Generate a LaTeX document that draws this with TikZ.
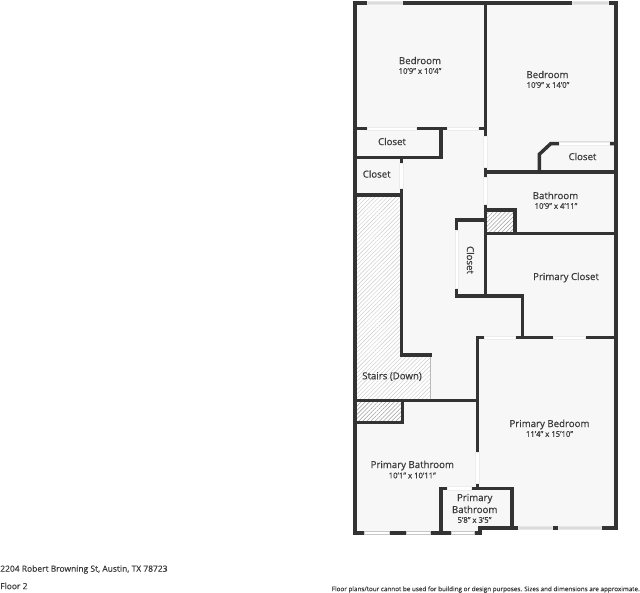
\documentclass[tikz,border=0pt]{standalone}
\usepackage{fontspec}
\setmainfont{Open Sans}[FakeBold=0.5]
\usetikzlibrary{patterns.meta}
\definecolor{roomgray}{HTML}{F7F7F7}
\definecolor{wallgray}{HTML}{333333}
\definecolor{textgray}{HTML}{3A3A3A}
\tikzset{
	wall/.style={draw=wallgray,line width=2.6pt,line cap=rect,line join=miter},
	door/.style={fill=white,draw=gray!15,line width=.25pt},
	glass/.style={fill=gray!28,draw=gray!18,line width=.3pt},
	lowglass/.style={fill=white,draw=gray!45,line width=.4pt},
	roomname/.style={text=textgray,font=\fontsize{7.25}{8}\selectfont,align=center,inner sep=0pt},
	roomsize/.style={text=textgray,font=\fontsize{5.8}{6}\selectfont,inner sep=0pt},
	stairhatch/.style={pattern={Lines[angle=45,distance=2.2pt,line width=.3pt]},pattern color=gray!42},
	darkhatch/.style={pattern={Lines[angle=45,distance=2.2pt,line width=.4pt]},pattern color=gray!75}
}
\begin{document}
\begin{tikzpicture}[x=.75pt,y=-.75pt]
	\useasboundingbox (0,0) rectangle (640,593);
	% floor
	\fill[roomgray] (355,3)--(616,3)--(616,528)--(480,528)--(480,533)--(355,533)--cycle;
	% hatched parts
	\fill[white] (356.5,196.5)--(400,196.5)--(400,355)--(430,355)--(430,399)--(356.5,399)--cycle;
	\path[stairhatch] (356.5,196.5)--(400,196.5)--(400,355)--(430,355)--(430,399)--(356.5,399)--cycle;
	\draw[gray!55,line width=.5pt] (430,355)--(430,399);
	\fill[white] (357,402) rectangle (401,421);
	\path[darkhatch] (357,402) rectangle (401,421);
	\fill[white] (487,212) rectangle (513.5,232);
	\path[darkhatch] (487,212) rectangle (513.5,232);
	% outside walls
	\draw[wall] (355,3)--(616,3)--(616,528)--(480,528)--(480,533)--(355,533)--cycle;
	% inside walls
	\draw[wall] (485.3,3)--(485.3,296)--(456.7,296)--(456.7,220)--(485.3,220);
	\draw[wall] (355,128.7)--(485.3,128.7);
	\draw[wall] (441,128.7)--(441,157.3)--(355,157.3);
	\draw[wall] (401.3,157.3)--(401.3,355)--(430,355);
	\draw[wall] (355,195)--(401.3,195);
	\draw[wall] (355,400.7)--(477.3,400.7);
	\draw[wall] (355,422.7)--(402.7,422.7)--(402.7,400.7);
	\draw[wall] (477.3,488.3)--(477.3,337.7)--(616,337.7);
	\draw[wall] (456.7,296)--(522.3,296)--(522.3,337.7);
	\draw[wall] (485.3,172)--(616,172);
	\draw[wall] (485.3,210)--(515,210)--(515,233.7);
	\draw[wall] (485.3,233.7)--(616,233.7);
	\draw[wall] (539.3,172)--(539.3,154.3)--(550.7,143.7)--(616,143.7);
	\draw[wall] (441,533)--(441,488.3)--(512,488.3)--(512,528);
	% doors
	\foreach \xa/\ya/\xb/\yb in {366.7/127/416/130.5,446.7/127/478/130.5,559/142/608.7/145.5,
		399.5/163/403/187.7,483.5/136/487/166.7,483.5/177/487/204,455/230/458.5/288,
		484/336/515/339.5,553/336/585/339.5,475.5/452.3/479/483.3,447/486.5/471/490}
		\filldraw[door] (\xa,\ya) rectangle (\xb,\yb);
	% windows
	\foreach \xa/\xb in {367/401.7,571.7/607.7}
		\filldraw[glass] (\xa,1.5) rectangle (\xb,4.5);
	\foreach \xa/\xb in {518/552,558/601}
		\filldraw[glass] (\xa,526.3) rectangle (\xb,529.3);
	\foreach \xa/\xb in {364/389,406.7/430,451.7/474}
		\filldraw[lowglass] (\xa,531.5) rectangle (\xb,534.5);
	% labels
	\node[roomname] (bedroomA) at (420,60.5) {Bedroom};
	\node[roomsize] (bedroomAsize) at (420,71) {10'9'' x 10'4''};
	\node[roomname] (bedroomB) at (547.5,74.5) {Bedroom};
	\node[roomsize] (bedroomBsize) at (548,85) {10'9'' x 14'0''};
	\node[roomname] (closetA) at (392,141.5) {Closet};
	\node[roomname] (closetB) at (376.7,174) {Closet};
	\node[roomname] (closetC) at (582.5,156.5) {Closet};
	\node[roomname] (bathroom) at (555.5,195.5) {Bathroom};
	\node[roomsize] (bathroomsize) at (556,206) {10'9'' x 4'11''};
	\node[roomname,rotate=-90] (closetD) at (470.5,260) {Closet};
	\node[roomname] (primarycloset) at (566,277.5) {Primary Closet};
	\node[roomname] (stairs) at (392,376.5) {Stairs (Down)};
	\node[roomname] (primarybedroom) at (549.5,424.5) {Primary Bedroom};
	\node[roomsize] (primarybedroomsize) at (549.5,434) {11'4'' x 15'10''};
	\node[roomname] (primarybathA) at (412.3,465.5) {Primary Bathroom};
	\node[roomsize] (primarybathAsize) at (412.3,475.5) {10'1'' x 10'11''};
	\node[roomname] (primarybathB) at (474.7,503.5) {Primary\\[1pt]Bathroom};
	\node[roomsize] (primarybathBsize) at (474.5,520) {5'8'' x 3'5''};
	\node[text=textgray,font=\fontsize{6.35}{7}\selectfont,anchor=west,inner sep=0pt] (address) at (0,569.5) {2204 Robert Browning St, Austin, TX 78723};
	\node[text=textgray,font=\fontsize{6.35}{7}\selectfont,anchor=west,inner sep=0pt] (floor) at (0,586) {Floor 2};
	\node[text=textgray,font=\fontsize{4.75}{5}\selectfont,anchor=east,inner sep=0pt] (disclaimer) at (640,589.5) {Floor plans/tour cannot be used for building or design purposes. Sizes and dimensions are approximate.};
\end{tikzpicture}
\end{document}
